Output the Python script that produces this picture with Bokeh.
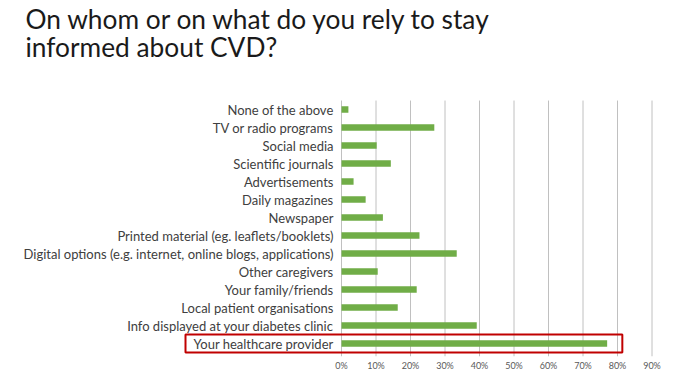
from bokeh.plotting import figure
from bokeh.models import Range1d, FixedTicker, NumeralTickFormatter, Label
from bokeh.core.properties import value
from bokeh.embed import file_html
from bokeh.resources import INLINE

# ---- data ----
categories = [
    "None of the above",
    "TV or radio programs",
    "Social media",
    "Scientific journals",
    "Advertisements",
    "Daily magazines",
    "Newspaper",
    "Printed material (eg. leaflets/booklets)",
    "Digital options (e.g. internet, online blogs, applications)",
    "Other caregivers",
    "Your family/friends",
    "Local patient organisations",
    "Info displayed at your diabetes clinic",
    "Your healthcare provider",
]
shares = [0.020, 0.269, 0.102, 0.143, 0.035, 0.070, 0.120,
          0.226, 0.334, 0.105, 0.218, 0.163, 0.392, 0.770]
tick_values = [0.0, 0.1, 0.2, 0.3, 0.4, 0.5, 0.6, 0.7, 0.8, 0.9]
highlight = "Your healthcare provider"
title_lines = ["On whom or on what do you rely to stay", "informed about CVD?"]

# ---- layout ----
n = len(categories)
ypos = [n - 1 - i for i in range(n)]          # first category at the top
px_x = 345.0                                   # px per 100 %
px_y = 18.0                                    # px per category row
W, H = 672, 374
left_b, right_b, top_b, bottom_b = 16, 4, 0, 18
zero_px = 341                                  # canvas x of the 0 % line
frame_w = W - left_b - right_b
frame_h = H - top_b - bottom_b
x_start = (left_b - zero_px) / px_x
y_start = -0.72

label_x = -8 / px_x
box_left = (185 - zero_px) / px_x
box_right = 0.814

p = figure(width=W, height=H, output_backend="svg", toolbar_location=None,
           x_range=Range1d(x_start, x_start + frame_w / px_x),
           y_range=Range1d(y_start, y_start + frame_h / px_y),
           min_border_left=left_b, min_border_right=right_b,
           min_border_top=top_b, min_border_bottom=bottom_b)
p.outline_line_color = None
p.background_fill_color = "white"
p.border_fill_color = "white"

p.yaxis.visible = False
p.ygrid.grid_line_color = None
p.xgrid.grid_line_color = None

ax = p.xaxis[0]
ax.ticker = FixedTicker(ticks=tick_values)
ax.formatter = NumeralTickFormatter(format="0%")
ax.axis_line_color = None
ax.major_tick_line_color = None
ax.minor_tick_line_color = None
ax.major_tick_out = 0
ax.major_tick_in = 0
ax.major_label_standoff = 3
ax.major_label_text_font = "Lato"
ax.major_label_text_font_size = "9px"
ax.major_label_text_color = "#595959"

# vertical gridlines only over the category area
p.segment(x0=tick_values, x1=tick_values, y0=y_start, y1=n - 0.5,
          line_color="#C0C0C0", line_width=1)

p.hbar(y=ypos, left=0, right=shares, height=0.36,
       fill_color="#70AD47", line_color=None)

p.text(x=label_x, y=ypos, text=categories, text_align="right",
       text_baseline="middle", text_font=value("Lato"),
       text_font_size="13px", text_color="#404040")

hy = ypos[categories.index(highlight)]
p.rect(x=(box_left + box_right) / 2, y=[hy], width=box_right - box_left,
       height=1.0, fill_color=None, line_color="#C00000", line_width=2)

p.add_layout(Label(x=9, y=frame_h - 18, x_units="screen", y_units="screen",
                   text=title_lines[0], text_font="Lato", text_font_size="26.3px",
                   text_color="#1a1a1a", text_baseline="alphabetic"))
p.add_layout(Label(x=9, y=frame_h - 46, x_units="screen", y_units="screen",
                   text=title_lines[1], text_font="Lato", text_font_size="26.3px",
                   text_color="#1a1a1a", text_baseline="alphabetic"))

open("out.html", "w").write(file_html(p, INLINE))
